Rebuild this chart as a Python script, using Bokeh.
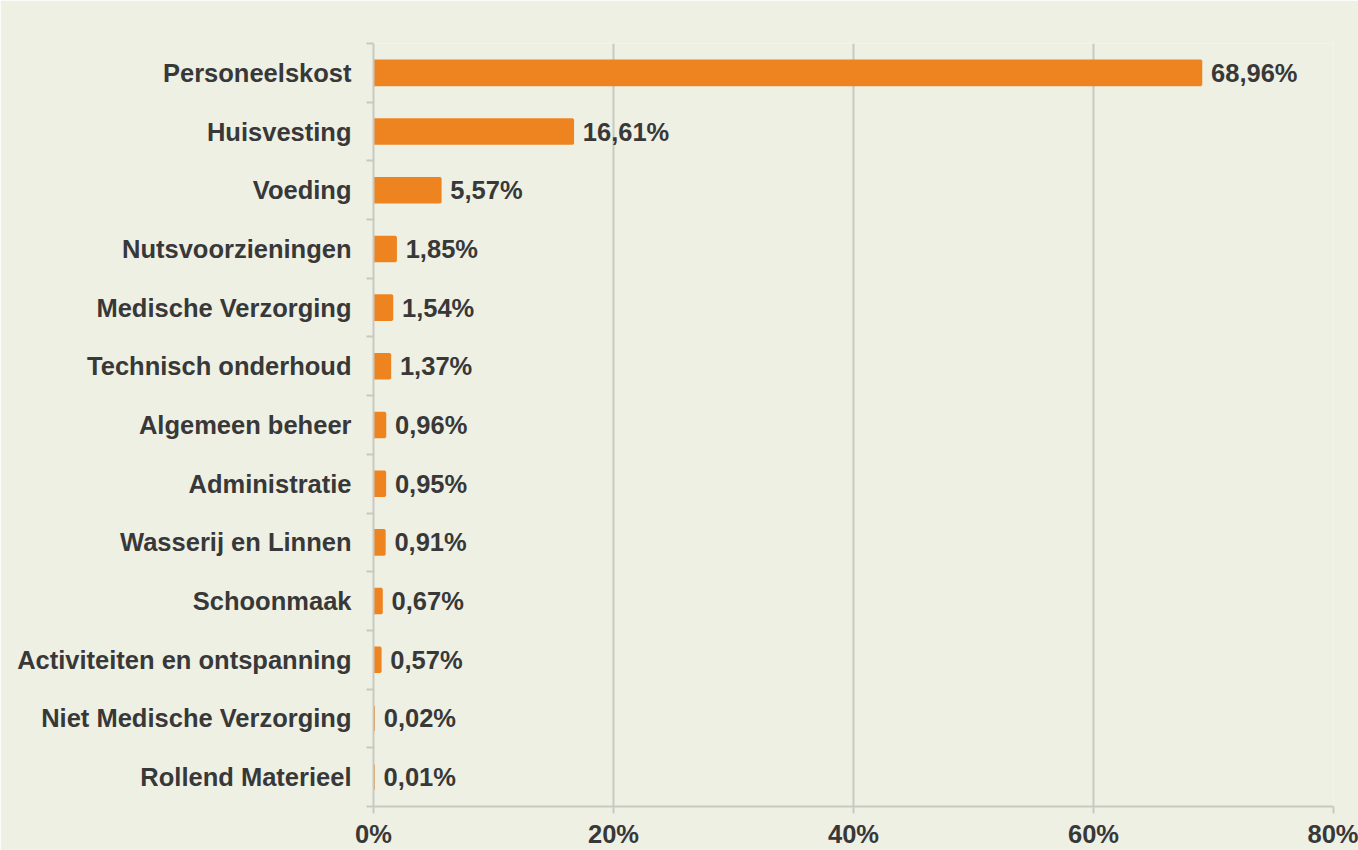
from bokeh.plotting import figure
from bokeh.models import ColumnDataSource, FixedTicker, PrintfTickFormatter, Range1d, LabelSet
from bokeh.core.properties import value
from bokeh.embed import file_html
from bokeh.resources import INLINE

categories = ["Personeelskost", "Huisvesting", "Voeding", "Nutsvoorzieningen",
              "Medische Verzorging", "Technisch onderhoud", "Algemeen beheer",
              "Administratie", "Wasserij en Linnen", "Schoonmaak",
              "Activiteiten en ontspanning", "Niet Medische Verzorging", "Rollend Materieel"]
values = [68.96, 16.61, 5.57, 1.85, 1.54, 1.37, 0.96, 0.95, 0.91, 0.67, 0.57, 0.02, 0.01]
value_labels = ["68,96%", "16,61%", "5,57%", "1,85%", "1,54%", "1,37%", "0,96%",
                "0,95%", "0,91%", "0,67%", "0,57%", "0,02%", "0,01%"]
x_ticks = [0, 20, 40, 60, 80]

BG = "#EEF0E4"
ORANGE = "#EE8420"
TEXT = "#383838"
GRID = "#C8CAC2"
FONT = "Liberation Sans"
FS = "25.5px"

n = len(categories)
pos = list(range(n))
src = ColumnDataSource(dict(y=pos, v=values, lab=value_labels, cat=categories))

p = figure(width=1358, height=850, output_backend="svg", toolbar_location=None,
           x_range=Range1d(0, 80), y_range=Range1d(n - 0.5, -0.5),
           min_border_left=373, min_border_right=25, min_border_top=43, min_border_bottom=43)
p.background_fill_color = BG
p.border_fill_color = BG
p.outline_line_color = None

p.hbar(y="y", right="v", left=0, height=0.41, source=src, fill_color=ORANGE,
       line_color=ORANGE, line_width=2.5)

labels = LabelSet(x="v", y="y", text="lab", source=src, x_offset=10, y_offset=0,
                  text_align="left", text_baseline="middle",
                  text_font=value(FONT), text_font_style="bold", text_font_size=value(FS),
                  text_color=TEXT)
p.add_layout(labels)

# x axis
p.xaxis.ticker = FixedTicker(ticks=x_ticks)
p.xaxis.formatter = PrintfTickFormatter(format="%d%%")
p.xaxis.major_label_text_font = FONT
p.xaxis.major_label_text_font_style = "bold"
p.xaxis.major_label_text_font_size = FS
p.xaxis.major_label_text_color = TEXT
p.xaxis.axis_line_color = GRID
p.xaxis.axis_line_width = 2
p.xaxis.major_tick_line_color = GRID
p.xaxis.major_tick_line_width = 2
p.xaxis.major_tick_out = 7
p.xaxis.major_tick_in = 0
p.xaxis.minor_tick_line_color = None
p.xaxis.major_label_standoff = 6

# y axis: labels at centers, ticks at category boundaries
p.yaxis.ticker = FixedTicker(ticks=pos, minor_ticks=[i - 0.5 for i in range(n + 1)])
p.yaxis.major_label_overrides = {i: c for i, c in enumerate(categories)}
p.yaxis.major_label_text_font = FONT
p.yaxis.major_label_text_font_style = "bold"
p.yaxis.major_label_text_font_size = FS
p.yaxis.major_label_text_color = TEXT
p.yaxis.major_tick_line_color = None
p.yaxis.major_tick_out = 0
p.yaxis.major_tick_in = 0
p.yaxis.minor_tick_line_color = GRID
p.yaxis.minor_tick_line_width = 2
p.yaxis.minor_tick_out = 7
p.yaxis.minor_tick_in = 0
p.yaxis.axis_line_color = GRID
p.yaxis.axis_line_width = 2
p.yaxis.major_label_standoff = 15

p.xgrid.ticker = FixedTicker(ticks=x_ticks)
p.xgrid.grid_line_color = GRID
p.xgrid.grid_line_width = 2
p.ygrid.grid_line_color = None

open("out.html", "w").write(file_html(p, INLINE))
